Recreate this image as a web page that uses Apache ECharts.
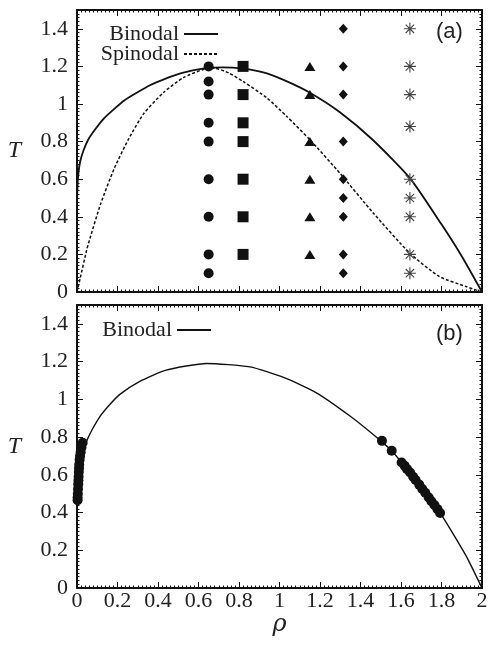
<!DOCTYPE html>
<html>
<head>
<meta charset="utf-8">
<script src="https://cdn.jsdelivr.net/npm/echarts@6/dist/echarts.min.js"></script>
<style>html,body{margin:0;padding:0;background:#fff}#c{width:492px;height:646px}</style>
</head>
<body>
<div id="c"></div>
<script>
// ---- data (rho, T) ----
const rhoTickLabels = ['0','0.2','0.4','0.6','0.8','1','1.2','1.4','1.6','1.8','2'];
const tTickLabels = ['0','0.2','0.4','0.6','0.8','1','1.2','1.4'];

const binodalA = [[0,0.45],[0.002,0.55],[0.006,0.62],[0.015,0.69],[0.031,0.75],[0.055,0.81],[0.089,0.864],[0.13,0.92],[0.18,0.97],[0.235,1.02],[0.295,1.06],[0.36,1.1],[0.426,1.13],[0.52,1.165],[0.62,1.188],[0.72,1.195],[0.82,1.188],[0.92,1.168],[1.02,1.128],[1.15,1.06],[1.30,0.955],[1.46,0.81],[1.644,0.606],[1.80,0.36],[1.90,0.19],[2.0,0]];
const spinodalA = [[0,0],[0.015,0.07],[0.048,0.224],[0.064,0.285],[0.117,0.47],[0.185,0.66],[0.253,0.81],[0.327,0.945],[0.426,1.06],[0.525,1.14],[0.624,1.184],[0.68,1.19],[0.75,1.165],[0.82,1.12],[0.937,1.033],[1.035,0.935],[1.15,0.81],[1.30,0.63],[1.463,0.42],[1.644,0.206],[1.79,0.082],[1.924,0.028],[2.0,0]];

const circlesA = [[0.65,1.2],[0.65,1.12],[0.65,1.05],[0.65,0.9],[0.65,0.8],[0.65,0.6],[0.65,0.4],[0.65,0.2],[0.65,0.1]];
const squaresA = [[0.82,1.2],[0.82,1.05],[0.82,0.9],[0.82,0.8],[0.82,0.6],[0.82,0.4],[0.82,0.2]];
const trianglesA = [[1.15,1.2],[1.15,1.05],[1.15,0.8],[1.15,0.6],[1.15,0.4],[1.15,0.2]];
const diamondsA = [[1.315,1.4],[1.315,1.2],[1.315,1.05],[1.315,0.8],[1.315,0.6],[1.315,0.5],[1.315,0.4],[1.315,0.2],[1.315,0.1]];
const starsA = [[1.644,1.4],[1.644,1.2],[1.644,1.05],[1.644,0.88],[1.644,0.6],[1.644,0.5],[1.644,0.4],[1.644,0.2],[1.644,0.1]];

const binodalB = [[0,0.3],[0.002,0.45],[0.006,0.55],[0.012,0.65],[0.025,0.72],[0.05,0.785],[0.075,0.84],[0.114,0.91],[0.16,0.97],[0.21,1.025],[0.31,1.095],[0.44,1.155],[0.64,1.19],[0.854,1.172],[1.02,1.116],[1.18,1.036],[1.35,0.91],[1.50,0.78],[1.554,0.727],[1.603,0.665],[1.70,0.535],[1.793,0.398],[1.85,0.3],[1.924,0.165],[2.0,0]];
const simLeftB = [[0.028,0.77],[0.022,0.745],[0.018,0.72],[0.015,0.70],[0.013,0.68],[0.011,0.655],[0.010,0.635],[0.009,0.615],[0.008,0.59],[0.007,0.57],[0.006,0.55],[0.005,0.525],[0.004,0.50],[0.003,0.48],[0.003,0.465]];
const simRightB = [[1.506,0.78],[1.554,0.727],[1.603,0.665],[1.618,0.648],[1.63,0.63],[1.645,0.612],[1.66,0.59],[1.672,0.572],[1.69,0.548],[1.705,0.525],[1.72,0.505],[1.737,0.48],[1.75,0.46],[1.765,0.44],[1.78,0.418],[1.793,0.398]];

// ---- chart ----
const FONT = 'Liberation Serif';
const labelStyle = {fontFamily: FONT, fontSize: 22, color: '#222'};
function baseAxis(extra) {
  return Object.assign({
    type: 'value',
    axisLine: {show: true, onZero: false, lineStyle: {color: '#111', width: 2}},
    axisTick: {show: true, inside: true, length: 6, lineStyle: {color: '#111', width: 1}},
    minorTick: {show: true, splitNumber: 10, length: 2.5, lineStyle: {color: '#111', width: 1}},
    splitLine: {show: false},
    minorSplitLine: {show: false},
    axisLabel: {show: false}
  }, extra);
}
const xLab = (v) => { const i = Math.round(v / 0.2); return Math.abs(v - i * 0.2) < 1e-6 ? (rhoTickLabels[i] || '') : ''; };
const yLab = (v) => { const i = Math.round(v / 0.2); return Math.abs(v - i * 0.2) < 1e-6 ? (tTickLabels[i] || '') : ''; };

const xCommon = {min: 0, max: 2, interval: 0.2};
const yCommon = {min: 0, max: 1.5, interval: 0.2};

const starPath = 'path://M5,0L5,10M0,5L10,5M1.5,1.5L8.5,8.5M8.5,1.5L1.5,8.5';
const legendBase = {orient: 'vertical', align: 'right', itemWidth: 34, itemHeight: 14, itemGap: 4,
  itemStyle: {opacity: 0}, textStyle: {fontFamily: FONT, fontSize: 22, color: '#222'}, selectedMode: false};

const option = {
  animation: false,
  backgroundColor: '#fff',
  grid: [
    {left: 77, top: 10, width: 405, height: 282},
    {left: 77, top: 305, width: 405, height: 283}
  ],
  xAxis: [
    baseAxis(Object.assign({gridIndex: 0, position: 'bottom'}, xCommon)),
    baseAxis(Object.assign({gridIndex: 0, position: 'top'}, xCommon)),
    baseAxis(Object.assign({gridIndex: 1, position: 'bottom', name: 'ρ', nameLocation: 'middle', nameGap: 24,
      nameTextStyle: {fontFamily: 'DejaVu Serif', fontSize: 24, fontStyle: 'italic', color: '#222'},
      axisLabel: Object.assign({show: true, margin: 2, formatter: xLab, showMaxLabel: true}, labelStyle)}, xCommon)),
    baseAxis(Object.assign({gridIndex: 1, position: 'top'}, xCommon))
  ],
  yAxis: [
    baseAxis(Object.assign({gridIndex: 0, position: 'left', name: 'T', nameLocation: 'middle', nameGap: 56, nameRotate: 0,
      nameTextStyle: {fontFamily: FONT, fontSize: 24, fontStyle: 'italic', color: '#222'},
      axisLabel: Object.assign({show: true, margin: 9, formatter: yLab, showMaxLabel: false, padding: [5, 0, 0, 0]}, labelStyle)}, yCommon)),
    baseAxis(Object.assign({gridIndex: 0, position: 'right'}, yCommon)),
    baseAxis(Object.assign({gridIndex: 1, position: 'left', name: 'T', nameLocation: 'middle', nameGap: 56, nameRotate: 0,
      nameTextStyle: {fontFamily: FONT, fontSize: 24, fontStyle: 'italic', color: '#222'},
      axisLabel: Object.assign({show: true, margin: 9, formatter: yLab, showMaxLabel: false, padding: [5, 0, 0, 0]}, labelStyle)}, yCommon)),
    baseAxis(Object.assign({gridIndex: 1, position: 'right'}, yCommon))
  ],
  legend: [
    Object.assign({data: ['Binodal'], right: 268, top: 18}, legendBase),
    Object.assign({data: ['Spinodal'], right: 268, top: 38}, legendBase),
    Object.assign({data: ['Binodal'], right: 275, top: 314}, legendBase)
  ],
  graphic: [
    {type: 'text', left: 436, top: 21, style: {text: '(a)', font: '22px "Liberation Sans"', fill: '#222'}},
    {type: 'text', left: 436, top: 323, style: {text: '(b)', font: '22px "Liberation Sans"', fill: '#222'}}
  ],
  series: [
    {name: 'Binodal', type: 'line', xAxisIndex: 0, yAxisIndex: 0, data: binodalA, smooth: 0.2, symbol: 'none',
      lineStyle: {color: '#111', width: 1.8}, itemStyle: {color: '#111'}, z: 3},
    {name: 'Spinodal', type: 'line', xAxisIndex: 0, yAxisIndex: 0, data: spinodalA, smooth: 0.2, symbol: 'none',
      lineStyle: {color: '#111', width: 1.5, type: [3, 2]}, itemStyle: {color: '#111'}, z: 3},
    {name: 'circles', type: 'scatter', xAxisIndex: 0, yAxisIndex: 0, data: circlesA, symbol: 'circle', symbolSize: 10, itemStyle: {color: '#111', opacity: 1}, z: 4},
    {name: 'squares', type: 'scatter', xAxisIndex: 0, yAxisIndex: 0, data: squaresA, symbol: 'rect', symbolSize: 11, itemStyle: {color: '#111', opacity: 1}, z: 4},
    {name: 'triangles', type: 'scatter', xAxisIndex: 0, yAxisIndex: 0, data: trianglesA, symbol: 'triangle', symbolSize: [11, 9], itemStyle: {color: '#111', opacity: 1}, z: 4},
    {name: 'diamonds', type: 'scatter', xAxisIndex: 0, yAxisIndex: 0, data: diamondsA, symbol: 'diamond', symbolSize: [9, 10], itemStyle: {color: '#111', opacity: 1}, z: 4},
    {name: 'stars', type: 'scatter', xAxisIndex: 0, yAxisIndex: 0, data: starsA, symbol: starPath, symbolSize: 12,
      itemStyle: {color: 'none', borderColor: '#444', borderWidth: 1.1, opacity: 1}, z: 4},
    {name: 'Binodal', type: 'line', xAxisIndex: 2, yAxisIndex: 2, data: binodalB, smooth: 0.2, symbol: 'none',
      lineStyle: {color: '#111', width: 1.4}, itemStyle: {color: '#111'}, z: 3},
    {name: 'simLeft', type: 'scatter', xAxisIndex: 2, yAxisIndex: 2, data: simLeftB, symbol: 'circle', symbolSize: 10, itemStyle: {color: '#111', opacity: 1}, z: 4},
    {name: 'simRight', type: 'scatter', xAxisIndex: 2, yAxisIndex: 2, data: simRightB, symbol: 'circle', symbolSize: 10, itemStyle: {color: '#111', opacity: 1}, z: 4}
  ]
};
const chart = echarts.init(document.getElementById('c'), null, {renderer: 'canvas'});
chart.setOption(option);
</script>
</body>
</html>
